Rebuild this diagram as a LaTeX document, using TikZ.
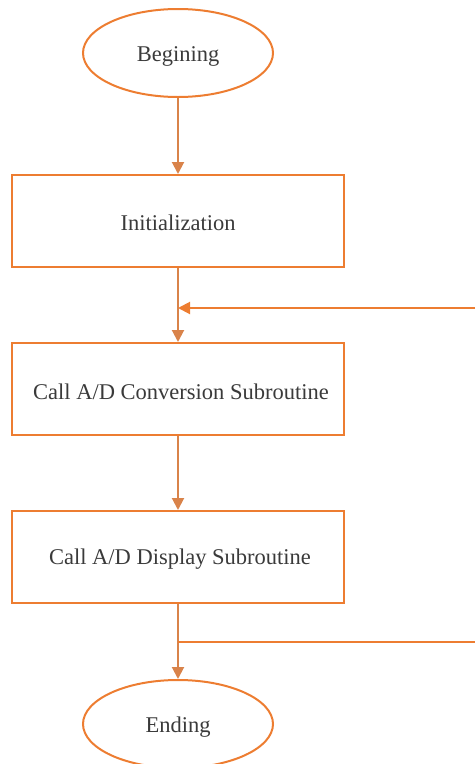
\documentclass[tikz,border=0pt]{standalone}
\usepackage{fontspec}
\setmainfont{Liberation Serif}
\usetikzlibrary{shapes.geometric,arrows.meta}
\definecolor{acc}{HTML}{ED7D31}
\definecolor{conn}{HTML}{D9834A}
\definecolor{txt}{HTML}{3A3A3A}
\begin{document}
\begin{tikzpicture}[x=1pt,y=-1pt,
  lbl/.style={font=\fontsize{22.5}{25}\selectfont, text=txt},
  term/.style={ellipse, draw=acc, line width=2pt, minimum width=190pt, minimum height=88pt},
  proc/.style={rectangle, draw=acc, line width=2pt, minimum width=332pt, minimum height=92pt},
  flow/.style={draw=conn, line width=2pt, -{Triangle[length=12pt,width=12pt]}},
  fb/.style={draw=acc, line width=2pt}
]
\useasboundingbox (0,0) rectangle (475,764);
\begin{scope}
\clip (0,0) rectangle (475,764);
\node[term] (begin) at (178,53) {};
\node[lbl] at (178,56) {Begining};
\node[proc] (init) at (178,221) {};
\node[lbl] at (178,223) {Initialization};
\node[proc] (conv) at (178,389) {};
\node[lbl] at (181,392) {Call A/D Conversion Subroutine};
\node[proc] (disp) at (178,557) {};
\node[lbl] at (180,559) {Call A/D Display Subroutine};
\node[term] (end) at (178,724) {};
\node[lbl] at (178,727) {Ending};
\coordinate (fbin) at (475,308);
\coordinate (fbout) at (475,642);
\coordinate (j1) at (178,308);
\coordinate (j2) at (178,642);
\draw[flow] (begin.south) -- (init.north);
\draw[flow] (init.south) -- (conv.north);
\draw[flow] (conv.south) -- (disp.north);
\draw[flow] (disp.south) -- (end.north);
\draw[fb, -{Triangle[length=12pt,width=12pt]}] (fbin) -- (j1);
\draw[fb] (j2) -- (fbout);
\end{scope}
\end{tikzpicture}
\end{document}
